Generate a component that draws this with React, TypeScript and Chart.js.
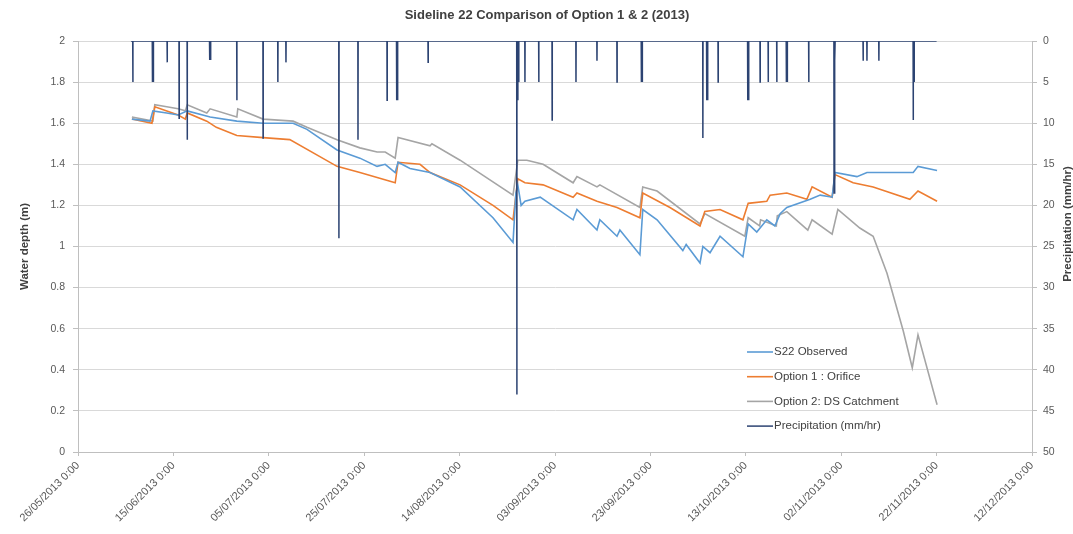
import React, { useEffect, useRef } from 'react';
import { Chart, registerables } from 'chart.js';

Chart.register(...registerables);

const TITLE = 'Sideline 22 Comparison of Option 1 & 2 (2013)';
const Y_TITLE = 'Water depth (m)';
const Y1_TITLE = 'Precipitation (mm/hr)';

const X_TICK_LABELS = [
  '26/05/2013 0:00', '15/06/2013 0:00', '05/07/2013 0:00', '25/07/2013 0:00',
  '14/08/2013 0:00', '03/09/2013 0:00', '23/09/2013 0:00', '13/10/2013 0:00',
  '02/11/2013 0:00', '22/11/2013 0:00', '12/12/2013 0:00',
];

// x values are days since 26/05/2013 0:00
const obsDay = [11.3, 15.1, 15.7, 18.6, 21.0, 22.9, 27.7, 33.3, 38.8, 45.1, 48.0, 54.3, 59.1, 62.7, 64.4, 66.5, 67.1, 69.6, 73.8, 80.1, 87.0, 91.2, 91.8, 92.2, 92.9, 93.7, 96.9, 103.8, 104.6, 108.8, 109.4, 113.0, 113.6, 117.8, 118.4, 121.4, 126.8, 127.5, 130.4, 131.0, 132.5, 134.6, 139.4, 140.5, 142.3, 144.4, 146.1, 147.2, 148.6, 153.5, 155.6, 158.1, 158.7, 163.3, 165.4, 175.1, 176.1, 180.1];
const obsDepth = [1.62, 1.61, 1.66, 1.65, 1.64, 1.66, 1.63, 1.61, 1.60, 1.60, 1.57, 1.47, 1.43, 1.39, 1.40, 1.36, 1.41, 1.38, 1.36, 1.29, 1.14, 1.02, 1.26, 1.30, 1.20, 1.22, 1.24, 1.13, 1.18, 1.08, 1.13, 1.05, 1.08, 0.96, 1.18, 1.13, 0.98, 1.01, 0.92, 1.00, 0.97, 1.05, 0.95, 1.11, 1.07, 1.13, 1.10, 1.16, 1.19, 1.23, 1.25, 1.24, 1.36, 1.34, 1.36, 1.36, 1.39, 1.37];

const opt1Day = [11.3, 15.5, 16.1, 21.0, 22.5, 22.9, 27.0, 29.0, 33.3, 38.8, 44.4, 54.3, 59.1, 66.5, 67.1, 71.7, 73.8, 80.1, 87.0, 91.2, 92.2, 93.7, 97.5, 103.8, 104.6, 108.8, 113.0, 117.8, 118.4, 124.1, 130.4, 131.4, 134.6, 139.4, 140.5, 144.4, 145.1, 148.6, 152.8, 153.9, 158.1, 158.7, 162.5, 166.7, 174.4, 176.1, 180.1];
const opt1Depth = [1.62, 1.60, 1.68, 1.64, 1.62, 1.65, 1.61, 1.58, 1.54, 1.53, 1.52, 1.39, 1.36, 1.31, 1.41, 1.40, 1.36, 1.30, 1.20, 1.13, 1.33, 1.31, 1.30, 1.24, 1.26, 1.22, 1.19, 1.14, 1.26, 1.19, 1.10, 1.17, 1.18, 1.13, 1.21, 1.22, 1.25, 1.26, 1.23, 1.29, 1.24, 1.35, 1.31, 1.29, 1.23, 1.27, 1.22];

const opt2Day = [11.3, 15.7, 16.1, 18.6, 21.0, 22.5, 22.9, 27.0, 27.7, 33.3, 33.5, 38.8, 45.1, 48.0, 54.3, 59.1, 62.7, 64.4, 66.5, 67.1, 73.8, 74.2, 80.1, 91.2, 92.2, 94.1, 97.5, 103.8, 104.6, 108.8, 109.4, 117.8, 118.4, 121.4, 130.4, 131.4, 139.8, 140.5, 142.9, 143.1, 146.4, 146.6, 148.6, 153.0, 153.9, 158.1, 159.3, 163.9, 166.7, 169.6, 173.0, 174.9, 176.1, 180.1];
const opt2Depth = [1.63, 1.61, 1.69, 1.68, 1.67, 1.66, 1.69, 1.65, 1.67, 1.63, 1.67, 1.62, 1.61, 1.58, 1.52, 1.48, 1.46, 1.46, 1.43, 1.53, 1.49, 1.50, 1.42, 1.25, 1.42, 1.42, 1.40, 1.31, 1.34, 1.29, 1.30, 1.19, 1.29, 1.27, 1.11, 1.16, 1.05, 1.14, 1.10, 1.13, 1.10, 1.15, 1.17, 1.08, 1.13, 1.06, 1.18, 1.09, 1.05, 0.87, 0.59, 0.41, 0.57, 0.23];

// hourly rainfall peaks (mm/hr); zero between events
const rainStartDay = 11.1;
const rainEndDay = 180.0;
const rainDay = [11.5, 15.6, 15.8, 18.7, 21.2, 22.9, 27.6, 27.8, 33.3, 38.8, 41.9, 43.6, 54.7, 58.7, 64.8, 66.8, 67.0, 73.4, 92.0, 92.2, 92.4, 93.7, 96.6, 99.4, 104.4, 108.8, 113.0, 118.1, 118.3, 131.0, 131.8, 132.0, 134.2, 140.4, 140.6, 143.0, 144.7, 146.5, 148.5, 148.7, 153.2, 158.5, 158.7, 164.6, 165.4, 167.9, 175.1, 175.3];
const rainMm = [5.0, 5.0, 5.0, 2.6, 9.4, 12.0, 2.3, 2.3, 7.2, 11.8, 5.0, 2.6, 24.0, 12.0, 7.2, 7.2, 7.2, 2.6, 43.0, 7.2, 5.0, 5.0, 5.0, 9.6, 5.0, 2.4, 5.0, 5.0, 5.0, 11.8, 7.2, 7.2, 5.0, 7.2, 7.2, 5.0, 5.0, 5.0, 5.0, 5.0, 5.0, 18.5, 2.4, 2.4, 2.4, 2.4, 9.6, 5.0];

const zip = (xs: number[], ys: number[]) => xs.map((x, i) => ({ x, y: ys[i] }));

function rainPoints() {
  const pts: { x: number; y: number }[] = [{ x: rainStartDay, y: 0 }];
  const hour = 1 / 24;
  rainDay.forEach((d, i) => {
    pts.push({ x: d - hour * 0.7, y: 0 }, { x: d, y: rainMm[i] }, { x: d + hour * 0.7, y: 0 });
  });
  pts.push({ x: rainEndDay, y: 0 });
  return pts;
}

const FONT = '"Liberation Sans", Arial, sans-serif';

const overlayPlugin = {
  id: 'overlay',
  afterDraw(chart: any) {
    const ctx = chart.ctx as CanvasRenderingContext2D;
    const area = chart.chartArea;
    ctx.save();
    ctx.fillStyle = '#404040';
    ctx.textAlign = 'center';
    ctx.textBaseline = 'middle';
    ctx.font = `bold 13px ${FONT}`;
    ctx.fillText(TITLE, 547, 15);

    ctx.font = `bold 11.5px ${FONT}`;
    ctx.save();
    ctx.translate(25, (area.top + area.bottom) / 2);
    ctx.rotate(-Math.PI / 2);
    ctx.fillText(Y_TITLE, 0, 0);
    ctx.restore();

    ctx.save();
    ctx.translate(1068, 224);
    ctx.rotate(-Math.PI / 2);
    ctx.fillText(Y1_TITLE, 0, 0);
    ctx.restore();

    // legend inside plot area
    const order = [1, 2, 3, 0];
    const lx = 747;
    let ly = 352;
    ctx.font = `11.5px ${FONT}`;
    ctx.textAlign = 'left';
    order.forEach((di) => {
      const ds = chart.data.datasets[di];
      ctx.strokeStyle = ds.borderColor;
      ctx.lineWidth = ds.borderWidth;
      ctx.beginPath();
      ctx.moveTo(lx, ly);
      ctx.lineTo(lx + 26, ly);
      ctx.stroke();
      ctx.fillStyle = '#404040';
      ctx.fillText(ds.label, lx + 27, ly);
      ly += 24.7;
    });
    ctx.restore();
  },
};

export default function App() {
  const ref = useRef<HTMLCanvasElement | null>(null);
  useEffect(() => {
    if (!ref.current) return;
    const chart = new Chart(ref.current, {
      type: 'line',
      data: {
        datasets: [
          {
            label: 'Precipitation (mm/hr)',
            data: rainPoints(),
            yAxisID: 'y1',
            borderColor: '#2C4372',
            borderWidth: 1.5,
            pointRadius: 0,
            tension: 0,
            order: 0,
          },
          {
            label: 'S22 Observed',
            data: zip(obsDay, obsDepth),
            yAxisID: 'y',
            borderColor: '#5B9BD5',
            borderWidth: 1.6,
            pointRadius: 0,
            tension: 0,
            order: 1,
          },
          {
            label: 'Option 1 : Orifice',
            data: zip(opt1Day, opt1Depth),
            yAxisID: 'y',
            borderColor: '#ED7D31',
            borderWidth: 1.6,
            pointRadius: 0,
            tension: 0,
            order: 2,
          },
          {
            label: 'Option 2: DS Catchment',
            data: zip(opt2Day, opt2Depth),
            yAxisID: 'y',
            borderColor: '#A5A5A5',
            borderWidth: 1.6,
            pointRadius: 0,
            tension: 0,
            order: 3,
          },
        ],
      },
      options: {
        responsive: false,
        animation: false,
        layout: { padding: { top: 41, left: 0, right: 0, bottom: 0 } },
        plugins: {
          legend: { display: false },
          title: { display: false },
          tooltip: { enabled: false },
        },
        scales: {
          x: {
            type: 'linear',
            min: 0,
            max: 200,
            afterFit: (s: any) => { s.height = 82; },
            afterBuildTicks: (s: any) => {
              s.ticks = X_TICK_LABELS.map((_, i) => ({ value: i * 20 }));
            },
            ticks: {
              autoSkip: false,
              maxRotation: 45,
              minRotation: 45,
              padding: 3,
              color: '#595959',
              font: { size: 11, family: FONT },
              callback: (_v: any, i: number) => X_TICK_LABELS[i],
            },
            grid: { drawOnChartArea: false, drawTicks: true, tickLength: 4, color: '#BFBFBF' },
            border: { color: '#BFBFBF' },
          },
          y: {
            position: 'left',
            min: 0,
            max: 2,
            afterFit: (s: any) => { s.width = 78; },
            ticks: {
              stepSize: 0.2,
              padding: 8,
              color: '#595959',
              font: { size: 10.5, family: FONT },
              callback: (v: any) => String(Number(Number(v).toFixed(1))),
            },
            grid: { color: '#D9D9D9', tickColor: '#BFBFBF', tickLength: 5 },
            border: { color: '#BFBFBF' },
          },
          y1: {
            position: 'right',
            reverse: true,
            min: 0,
            max: 50,
            afterFit: (s: any) => { s.width = 41; },
            ticks: {
              stepSize: 5,
              padding: 6,
              color: '#595959',
              font: { size: 10.5, family: FONT },
            },
            grid: { drawOnChartArea: false, tickColor: '#BFBFBF', tickLength: 5 },
            border: { color: '#BFBFBF' },
          },
        },
      } as any,
      plugins: [overlayPlugin],
    });
    return () => chart.destroy();
  }, []);
  return (
    <div style={{ position: 'fixed', left: 0, top: 0, width: 1073, height: 534, background: '#fff' }}>
      <canvas ref={ref} width={1073} height={534} />
    </div>
  );
}
